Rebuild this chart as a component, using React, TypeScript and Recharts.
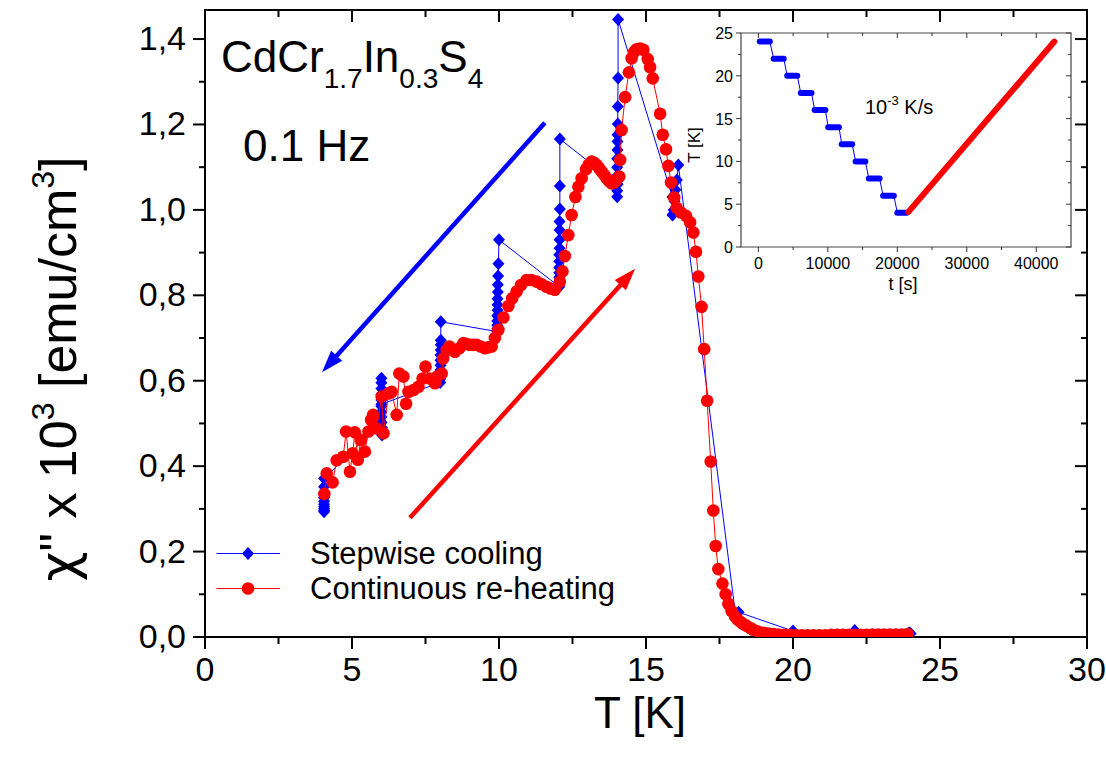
import React from 'react';
import {
  ComposedChart,
  Scatter,
  Line,
  XAxis,
  YAxis,
  ReferenceArea,
  ReferenceLine,
  Legend,
} from 'recharts';

const FONT = '"Liberation Sans", Arial, Helvetica, sans-serif';
const BLUE = '#0000ff';
const RED = '#ff0000';

// main plot box (page px)
const PLOT = { left: 205, right: 1087, top: 10, bottom: 637 };
const CHI_MAX = 1.468;

const xTicks = [0, 2.5, 5, 7.5, 10, 12.5, 15, 17.5, 20, 22.5, 25, 27.5, 30];
const yTicks = [0, 0.1, 0.2, 0.3, 0.4, 0.5, 0.6, 0.7, 0.8, 0.9, 1.0, 1.1, 1.2, 1.3, 1.4];

const seriesNames = ['Stepwise cooling', 'Continuous re-heating'];

// stepwise cooling, in measurement order (24 K -> 4 K, 2 K steps)
const coolT = [
  23.95, 24.0,
  22.1,
  20.0,
  18.15, 18.05,
  16.1, 16.05, 16.0, 15.97, 15.94, 15.92, 15.9, 15.9,
  14.05, 14.05, 14.04, 14.04, 14.03, 14.03, 14.03, 14.02, 14.02, 14.02, 14.02, 14.02, 14.02, 14.03,
  12.07, 12.07, 12.07, 12.06, 12.06, 12.06, 12.06, 12.05, 12.05, 12.05, 12.05, 12.05, 12.05, 12.05, 12.05,
  10.0, 9.98, 9.97, 9.96, 9.96, 9.95, 9.95, 9.95, 9.94, 9.94, 9.94, 9.94, 9.94,
  8.02, 8.02, 8.02, 8.02, 8.01, 8.01, 8.01, 8.01, 8.01, 8.0, 8.0,
  6.0, 6.0, 6.0, 6.0, 6.0, 6.0, 6.0, 6.0, 6.0, 6.0, 6.02, 6.02, 6.02, 5.98,
  4.05, 4.05, 4.05, 4.05, 4.05, 4.05, 4.05, 4.05, 4.05, 4.05,
];
const coolChi = [
  0.01, 0.008,
  0.015,
  0.014,
  0.058, 0.05,
  1.105, 1.07, 1.047, 1.02, 1.0, 0.99, 0.988, 1.03,
  1.446, 1.309, 1.242, 1.201, 1.176, 1.16, 1.14, 1.12, 1.1, 1.08, 1.06, 1.045, 1.031, 1.06,
  1.166, 1.056, 1.002, 0.973, 0.953, 0.93, 0.91, 0.895, 0.88, 0.865, 0.853, 0.842, 0.832, 0.825, 0.82,
  0.93, 0.874, 0.845, 0.825, 0.808, 0.792, 0.778, 0.765, 0.752, 0.74, 0.73, 0.722, 0.715,
  0.738, 0.695, 0.684, 0.672, 0.66, 0.648, 0.636, 0.625, 0.614, 0.604, 0.596,
  0.545, 0.606, 0.595, 0.582, 0.568, 0.555, 0.54, 0.527, 0.515, 0.503, 0.49, 0.48, 0.473, 0.5,
  0.371, 0.352, 0.337, 0.326, 0.318, 0.311, 0.305, 0.3, 0.296, 0.293,
];

// continuous re-heating, 4 K -> 24 K
const heatT = [
  4.06, 4.14, 4.34, 4.48, 4.7, 4.8, 4.93, 5.02, 5.1, 5.2, 5.3, 5.44, 5.56, 5.65, 5.72, 5.84,
  6.01, 6.07, 6.24, 6.35, 6.52, 6.61, 6.75, 6.84, 6.92, 7.09, 7.26, 7.4, 7.5, 7.65, 7.82, 7.9,
  8.05, 8.1, 8.22, 8.31, 8.5, 8.65, 8.79, 8.9, 9.0, 9.12, 9.24, 9.38, 9.52, 9.63, 9.75, 9.86,
  9.98, 10.15, 10.32, 10.45, 10.6, 10.75, 10.94, 11.1, 11.28, 11.45, 11.62, 11.75, 11.9, 12.07,
  12.16, 12.24, 12.36, 12.47, 12.6, 12.7, 12.81, 12.96, 13.05, 13.15, 13.24, 13.32, 13.4, 13.49,
  13.58, 13.66, 13.75, 13.83, 13.92, 14.0, 14.09, 14.12, 14.17, 14.29, 14.42, 14.51, 14.6, 14.68,
  14.8, 14.91, 15.06, 15.14, 15.23, 15.48, 15.57, 15.68, 15.76, 15.85, 15.96, 16.04, 16.19, 16.36,
  16.5, 16.61, 16.7, 16.78, 16.89, 16.98, 17.08, 17.2, 17.29, 17.37, 17.46, 17.6, 17.71, 17.8,
  17.91, 18.03, 18.1, 18.2, 18.3, 18.42, 18.55, 18.65, 18.8, 18.99, 19.15, 19.33, 19.5, 19.7,
  19.9, 20.1, 20.3, 20.5, 20.7, 20.9, 21.1, 21.3, 21.5, 21.7, 21.9, 22.1, 22.3, 22.5, 22.7,
  22.9, 23.1, 23.3, 23.5, 23.7, 23.9,
];
const heatChi = [
  0.335, 0.383, 0.362, 0.414, 0.422, 0.481, 0.387, 0.43, 0.479, 0.415, 0.461, 0.434, 0.481, 0.508, 0.52, 0.488,
  0.563, 0.477, 0.57, 0.574, 0.52, 0.617, 0.61, 0.546, 0.574, 0.578, 0.586, 0.605, 0.633, 0.605, 0.594, 0.61,
  0.617, 0.652, 0.672, 0.68, 0.668, 0.676, 0.688, 0.686, 0.684, 0.684, 0.684, 0.68, 0.676, 0.678, 0.68, 0.7,
  0.719, 0.748, 0.775, 0.793, 0.809, 0.824, 0.836, 0.836, 0.832, 0.826, 0.82, 0.816, 0.813, 0.832,
  0.856, 0.892, 0.941, 0.988, 1.03, 1.054, 1.074, 1.095, 1.106, 1.113, 1.11, 1.105, 1.098, 1.09,
  1.082, 1.074, 1.067, 1.062, 1.064, 1.07, 1.078, 1.117, 1.187, 1.264, 1.322, 1.355, 1.37, 1.376,
  1.378, 1.375, 1.353, 1.334, 1.308, 1.225, 1.176, 1.142, 1.103, 1.064, 1.029, 1.005, 0.994, 0.986,
  0.971, 0.947, 0.902, 0.844, 0.773, 0.674, 0.553, 0.411, 0.296, 0.213, 0.159, 0.125, 0.1, 0.078,
  0.061, 0.048, 0.042, 0.036, 0.031, 0.026, 0.021, 0.017, 0.013, 0.01, 0.008, 0.007, 0.006, 0.005,
  0.005, 0.004, 0.004, 0.004, 0.004, 0.004, 0.004, 0.005, 0.005, 0.005, 0.005, 0.005, 0.005, 0.005, 0.006,
  0.006, 0.006, 0.006, 0.006, 0.006, 0.007,
];

const coolData = coolT.map((T, i) => ({ T, chi: coolChi[i] }));
const heatData = heatT.map((T, i) => ({ T, chi: heatChi[i] }));

// direction arrows (T, chi): tail -> head
const arrowFrom = [[11.56, 1.204], [6.97, 0.279]];
const arrowTo = [[3.98, 0.62], [14.63, 0.862]];
const arrowColors = [BLUE, RED];

// inset: temperature program
const stepTemps = [24, 22, 20, 18, 16, 14, 12, 10, 8, 6, 4];
const stepStart = [200, 2200, 4150, 6100, 8100, 10050, 12000, 14000, 15900, 17950, 20000];
const stepEnd = [1650, 3650, 5600, 7650, 9650, 11600, 13500, 15400, 17450, 19500, 21350];
const rampTime = [21600, 42600];
const rampTemp = [4.1, 24];
const insetXTicks = [0, 5000, 10000, 15000, 20000, 25000, 30000, 35000, 40000];
const insetYTicks = [0, 2.5, 5, 7.5, 10, 12.5, 15, 17.5, 20, 22.5, 25];

const stepLine = stepTemps.flatMap((T, i) => [
  { t: stepStart[i], T },
  { t: stepEnd[i], T },
]);
const rampData = rampTime.map((t, i) => ({ t, T: rampTemp[i] }));

const Diamond = (p: any) => (
  <polygon
    points={`${p.cx},${p.cy - 6.5} ${p.cx + 6},${p.cy} ${p.cx},${p.cy + 6.5} ${p.cx - 6},${p.cy}`}
    fill={p.fill || BLUE}
  />
);
const Dot = (p: any) => <circle cx={p.cx} cy={p.cy} r={6.3} fill={p.fill || RED} />;

const MainXTick = (props: any) => {
  const { x, y, payload } = props;
  const v = payload.value;
  const major = v % 5 === 0;
  const len = major ? 12 : 7;
  return (
    <g>
      <line x1={x} x2={x} y1={y} y2={y + len} stroke="#000" strokeWidth={2} />
      <line x1={x} x2={x} y1={PLOT.top} y2={PLOT.top + len} stroke="#000" strokeWidth={2} />
      {major && (
        <text x={x} y={y + 44} textAnchor="middle" fontFamily={FONT} fontSize={34} fill="#000">
          {v}
        </text>
      )}
    </g>
  );
};

const MainYTick = (props: any) => {
  const { x, y, payload } = props;
  const v = payload.value;
  const major = Math.round(v * 10) % 2 === 0;
  const len = major ? 12 : 6;
  return (
    <g>
      <line x1={x - len} x2={x} y1={y} y2={y} stroke="#000" strokeWidth={2} />
      <line x1={PLOT.right - len} x2={PLOT.right} y1={y} y2={y} stroke="#000" strokeWidth={2} />
      {major && (
        <text x={x - 19} y={y + 11} textAnchor="end" fontFamily={FONT} fontSize={34} fill="#000">
          {v.toFixed(1).replace('.', ',')}
        </text>
      )}
    </g>
  );
};

// inset placement and its plot box (inset px)
const INSET = { left: 680, top: 20, width: 400, height: 280 };
const IPLOT = { left: 61, right: 391, top: 13, bottom: 227 };

const InsetXTick = (props: any) => {
  const { x, y, payload } = props;
  const v = payload.value;
  const major = v % 10000 === 0;
  const len = major ? 5 : 3;
  return (
    <g>
      <line x1={x} x2={x} y1={y} y2={y + len} stroke="#333" strokeWidth={1} />
      <line x1={x} x2={x} y1={IPLOT.top} y2={IPLOT.top + len} stroke="#333" strokeWidth={1} />
      {major && (
        <text x={x} y={y + 22} textAnchor="middle" fontFamily={FONT} fontSize={16} fill="#000">
          {v}
        </text>
      )}
    </g>
  );
};

const InsetYTick = (props: any) => {
  const { x, y, payload } = props;
  const v = payload.value;
  const major = v % 5 === 0;
  const len = major ? 5 : 3;
  return (
    <g>
      <line x1={x - len} x2={x} y1={y} y2={y} stroke="#333" strokeWidth={1} />
      <line x1={IPLOT.right - len} x2={IPLOT.right} y1={y} y2={y} stroke="#333" strokeWidth={1} />
      {major && (
        <text x={x - 8} y={y + 6} textAnchor="end" fontFamily={FONT} fontSize={16} fill="#000">
          {v}
        </text>
      )}
    </g>
  );
};

const arrowShape = (color: string) => (props: any) => {
  const { x1, y1, x2, y2 } = props;
  if (x1 == null || x2 == null) return <g />;
  const dx = x2 - x1;
  const dy = y2 - y1;
  const len = Math.hypot(dx, dy);
  const ux = dx / len;
  const uy = dy / len;
  const headL = 22;
  const headW = 7.5;
  const bx = x2 - ux * headL;
  const by = y2 - uy * headL;
  return (
    <g>
      <line x1={x1} y1={y1} x2={bx + ux * 2} y2={by + uy * 2} stroke={color} strokeWidth={4.5} />
      <polygon
        points={`${x2},${y2} ${bx - uy * headW},${by + ux * headW} ${bx + uy * headW},${by - ux * headW}`}
        fill={color}
      />
    </g>
  );
};

const LegendBox = (props: any) => {
  const items = [...(props.payload ?? [])].sort(
    (a: any, b: any) => seriesNames.indexOf(a.value) - seriesNames.indexOf(b.value),
  );
  return (
    <div style={{ fontFamily: FONT, fontSize: 31, color: '#000' }}>
      {items.map((it: any) => {
        const color = it.color || (it.type === 'diamond' ? BLUE : RED);
        return (
          <div key={it.value} style={{ display: 'flex', alignItems: 'center', height: 35 }}>
            <svg width={100} height={35} style={{ display: 'block' }}>
              <line x1={6.5} x2={70} y1={17.5} y2={17.5} stroke={color} strokeWidth={1} />
              {it.type === 'diamond' ? (
                <Diamond cx={38} cy={17.5} fill={color} />
              ) : (
                <Dot cx={38} cy={17.5} fill={color} />
              )}
            </svg>
            <span style={{ whiteSpace: 'nowrap', lineHeight: '35px' }}>{it.value}</span>
          </div>
        );
      })}
    </div>
  );
};

const Inset = () => (
  <div style={{ position: 'absolute', left: INSET.left, top: INSET.top }}>
    <ComposedChart
      width={INSET.width}
      height={INSET.height}
      margin={{ top: IPLOT.top, right: INSET.width - IPLOT.right, bottom: 0, left: 0 }}
    >
      <XAxis
        type="number"
        dataKey="t"
        domain={[-2500, 45000]}
        allowDataOverflow
        ticks={insetXTicks}
        interval={0}
        height={INSET.height - IPLOT.bottom}
        axisLine={false}
        tickLine={false}
        tickSize={0}
        tickMargin={0}
        tick={(p: any) => <InsetXTick {...p} />}
      />
      <YAxis
        type="number"
        dataKey="T"
        domain={[0, 25]}
        allowDataOverflow
        ticks={insetYTicks}
        interval={0}
        width={IPLOT.left}
        axisLine={false}
        tickLine={false}
        tickSize={0}
        tickMargin={0}
        tick={(p: any) => <InsetYTick {...p} />}
      />
      <ReferenceArea x1={-2500} x2={45000} y1={0} y2={25} fill="#fff" fillOpacity={0} stroke="#444" strokeWidth={1.2} />
      <Line data={stepLine} dataKey="T" stroke={BLUE} strokeWidth={1} dot={false} isAnimationActive={false} />
      {stepTemps.map((T, i) => (
        <Line
          key={T}
          data={[
            { t: stepStart[i], T },
            { t: stepEnd[i], T },
          ]}
          dataKey="T"
          stroke={BLUE}
          strokeWidth={6}
          strokeLinecap="round"
          dot={false}
          isAnimationActive={false}
        />
      ))}
      <Line data={rampData} dataKey="T" stroke={RED} strokeWidth={6} strokeLinecap="round" dot={false} isAnimationActive={false} />
    </ComposedChart>
  </div>
);

export default function App() {
  return (
    <div style={{ position: 'absolute', left: 0, top: 0, width: 1106, height: 763, background: '#fff' }}>
      <ComposedChart
        width={1106}
        height={763}
        margin={{ top: PLOT.top, right: 1106 - PLOT.right, bottom: 0, left: 0 }}
      >
        <XAxis
          type="number"
          dataKey="T"
          domain={[0, 30]}
          allowDataOverflow
          ticks={xTicks}
          interval={0}
          height={763 - PLOT.bottom}
          axisLine={false}
          tickLine={false}
          tickSize={0}
          tickMargin={0}
          tick={(p: any) => <MainXTick {...p} />}
        />
        <YAxis
          type="number"
          dataKey="chi"
          domain={[0, CHI_MAX]}
          allowDataOverflow
          ticks={yTicks}
          interval={0}
          width={PLOT.left}
          axisLine={false}
          tickLine={false}
          tickSize={0}
          tickMargin={0}
          tick={(p: any) => <MainYTick {...p} />}
        />
        <ReferenceArea x1={0} x2={30} y1={0} y2={CHI_MAX} fill="#fff" fillOpacity={0} stroke="#000" strokeWidth={2} />
        {arrowFrom.map((a, i) => (
          <ReferenceLine
            key={i}
            segment={[
              { x: a[0], y: a[1] },
              { x: arrowTo[i][0], y: arrowTo[i][1] },
            ]}
            stroke={arrowColors[i]}
            shape={arrowShape(arrowColors[i])}
          />
        ))}
        <Scatter
          name={seriesNames[0]}
          data={coolData}
          fill={BLUE}
          legendType="diamond"
          line={{ stroke: BLUE, strokeWidth: 1 }}
          lineType="joint"
          shape={Diamond}
          isAnimationActive={false}
        />
        <Scatter
          name={seriesNames[1]}
          data={heatData}
          fill={RED}
          legendType="circle"
          line={{ stroke: RED, strokeWidth: 1 }}
          lineType="joint"
          shape={Dot}
          isAnimationActive={false}
        />
        <Legend
          layout="vertical"
          align="center"
          verticalAlign="middle"
          wrapperStyle={{ left: 210, top: 535.5, width: 'auto' }}
          content={LegendBox}
        />
      </ComposedChart>

      <Inset />

      <svg
        width={1106}
        height={763}
        style={{ position: 'absolute', left: 0, top: 0, pointerEvents: 'none' }}
        fontFamily={FONT}
        fill="#000"
      >
        <text x={221} y={72} fontSize={44}>
          CdCr
          <tspan fontSize={28} dy={16}>1.7</tspan>
          <tspan dy={-16}>In</tspan>
          <tspan fontSize={28} dy={16}>0.3</tspan>
          <tspan dy={-16}>S</tspan>
          <tspan fontSize={28} dy={16}>4</tspan>
        </text>
        <text x={243} y={161} fontSize={44}>0.1 Hz</text>
        <text x={640} y={728} fontSize={44} textAnchor="middle">T [K]</text>
        <text transform="translate(76,369) rotate(-90)" textAnchor="middle" fontSize={52}>
          <tspan fontFamily='"DejaVu Sans", sans-serif'>χ</tspan>
          {'" x 10'}
          <tspan fontSize={32} dy={-22}>3</tspan>
          <tspan dy={22}>{' [emu/cm'}</tspan>
          <tspan fontSize={32} dy={-22}>3</tspan>
          <tspan dy={22}>]</tspan>
        </text>
        <text x={865} y={114} fontSize={20}>
          10
          <tspan fontSize={13} dy={-9}>-3</tspan>
          <tspan dy={9}>{' K/s'}</tspan>
        </text>
        <text x={903} y={290} fontSize={18} textAnchor="middle">t [s]</text>
        <text transform="translate(700,145) rotate(-90)" fontSize={17} textAnchor="middle">T [K]</text>
      </svg>
    </div>
  );
}
